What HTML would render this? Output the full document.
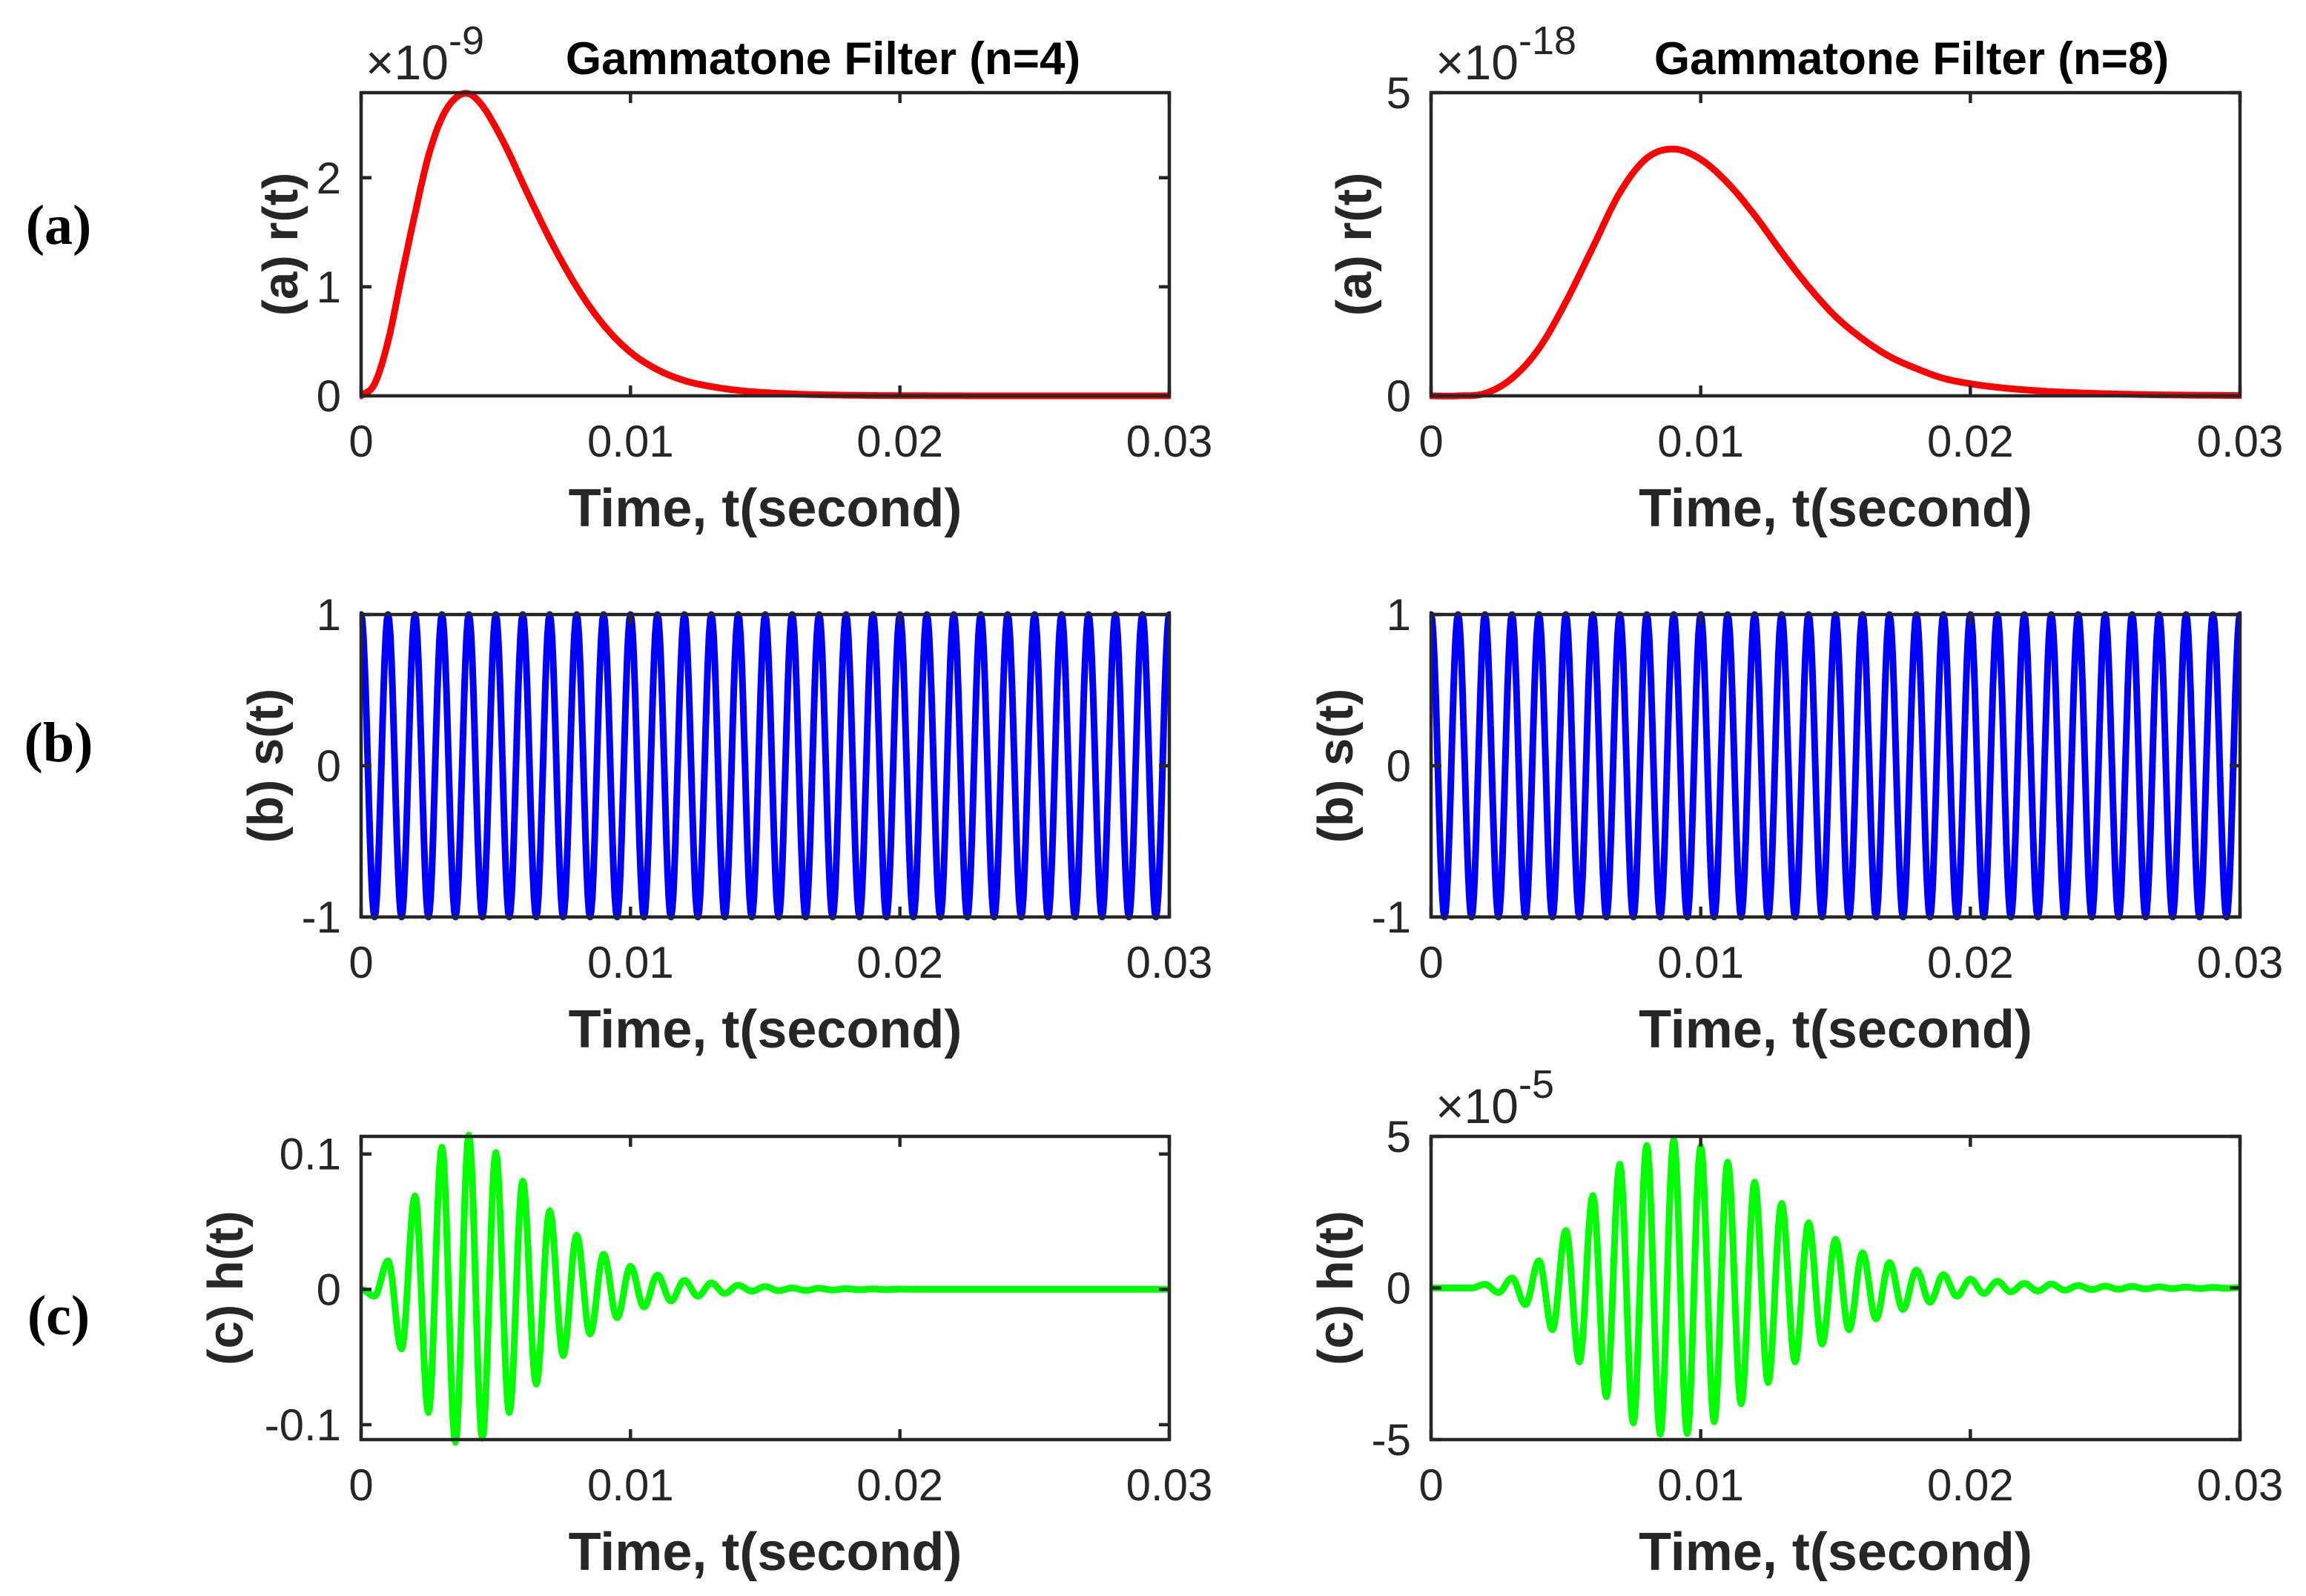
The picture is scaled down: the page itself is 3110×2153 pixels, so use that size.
<!DOCTYPE html>
<html><head><meta charset="utf-8"><style>
html,body{margin:0;padding:0;background:#fff;}
svg{display:block;}
text{font-family:"Liberation Sans",Arial,sans-serif;fill:#262626;}
</style></head><body>
<svg id="fig" width="3110" height="2153" viewBox="0 0 3110 2153" xmlns="http://www.w3.org/2000/svg">
<g id="layer"></g>
</svg>
<script>
// ---- data ----
const rTimes4 = [0,0.0005,0.001,0.0015,0.002,0.0025,0.003,0.0035,0.004,0.0045,0.005,0.0055,0.006,0.0065,0.007,0.0075,0.008,0.009,0.010,0.011,0.012,0.013,0.014,0.015,0.016,0.018,0.020,0.022,0.025,0.03];
const rVals4 = [0,0.11,0.5,1.09,1.67,2.2,2.55,2.73,2.77,2.66,2.46,2.22,1.95,1.69,1.44,1.21,1.0,0.65,0.40,0.24,0.14,0.085,0.05,0.03,0.018,0.006,0.002,0.0005,0,0];
const rTimes8 = [0,0.001,0.002,0.003,0.004,0.005,0.006,0.007,0.008,0.009,0.010,0.011,0.012,0.013,0.014,0.015,0.016,0.017,0.018,0.019,0.020,0.021,0.022,0.023,0.024,0.025,0.026,0.027,0.028,0.029,0.030];
const rVals8 = [0,0,0.04,0.29,0.78,1.55,2.45,3.35,3.92,4.07,3.9,3.51,2.98,2.37,1.8,1.31,0.94,0.65,0.45,0.29,0.2,0.14,0.1,0.07,0.05,0.035,0.025,0.017,0.012,0.008,0.005];
// extrema sampled every half period (0.0005 s)
const extremaStep = 0.0005;
const sExtrema = [1,-1,1,-1,1,-1,1,-1,1,-1,1,-1,1,-1,1,-1,1,-1,1,-1,1,-1,1,-1,1,-1,1,-1,1,-1,1,-1,1,-1,1,-1,1,-1,1,-1,1,-1,1,-1,1,-1,1,-1,1,-1,1,-1,1,-1,1,-1,1,-1,1,-1,1];
const hExtrema4 = [0,-0.005,0.021,-0.044,0.069,-0.091,0.105,-0.113,0.114,-0.110,0.101,-0.091,0.080,-0.070,0.058,-0.049,0.040,-0.033,0.026,-0.021,0.017,-0.013,0.0106,-0.0086,0.0066,-0.005,0.0047,-0.003,0.003,-0.0013,0.002,-0.001,0.001,-0.0008,0.0008,-0.0005,0.0005,-0.0003,0.0003,-0.0002,0.0002,0,0,0,0,0,0,0,0,0,0,0,0,0,0,0,0,0,0,0,0];
const hExtrema8 = [0,0,0,0,0.12,-0.15,0.33,-0.55,0.9,-1.38,1.9,-2.44,3.05,-3.59,4.08,-4.45,4.7,-4.82,4.88,-4.8,4.67,-4.41,4.15,-3.82,3.49,-3.12,2.79,-2.44,2.15,-1.85,1.61,-1.38,1.16,-1.02,0.84,-0.71,0.59,-0.47,0.44,-0.27,0.29,-0.18,0.22,-0.13,0.15,-0.1,0.13,-0.07,0.08,-0.05,0.06,-0.04,0.05,-0.03,0.04,-0.02,0.03,-0.02,0.02,-0.01,0.01];
const xTicks = [0,0.01,0.02,0.03];
const xTickLabels = ["0","0.01","0.02","0.03"];
const yTicksA4 = [0,1,2], yTickLabelsA4 = ["0","1","2"];
const yTicksA8 = [0,5], yTickLabelsA8 = ["0","5"];
const yTicksB = [-1,0,1], yTickLabelsB = ["-1","0","1"];
const yTicksC4 = [-0.1,0,0.1], yTickLabelsC4 = ["-0.1","0","0.1"];
const yTicksC8 = [-5,0,5], yTickLabelsC8 = ["-5","0","5"];

const NS = "http://www.w3.org/2000/svg";
const layer = document.getElementById('layer');
function mk(tag, attrs, parent){
  const e = document.createElementNS(NS, tag);
  for (const k in attrs) e.setAttribute(k, attrs[k]);
  (parent||layer).appendChild(e);
  return e;
}
// cubic Hermite through (times, vals) with nonuniform spacing
function hermitePath(times, vals, sx, sy){
  const n = times.length, m = [];
  for (let i=0;i<n;i++){
    if (i===0) m.push((vals[1]-vals[0])/(times[1]-times[0]));
    else if (i===n-1) m.push((vals[n-1]-vals[n-2])/(times[n-1]-times[n-2]));
    else {
      const d0=(vals[i]-vals[i-1])/(times[i]-times[i-1]);
      const d1=(vals[i+1]-vals[i])/(times[i+1]-times[i]);
      const h0=times[i]-times[i-1], h1=times[i+1]-times[i];
      m.push((d0*h1+d1*h0)/(h0+h1));
    }
  }
  const pts=[];
  for (let i=0;i<n-1;i++){
    const h=times[i+1]-times[i];
    for (let j=0;j<20;j++){
      const s=j/20, s2=s*s, s3=s2*s;
      const v=(2*s3-3*s2+1)*vals[i]+(s3-2*s2+s)*h*m[i]+(-2*s3+3*s2)*vals[i+1]+(s3-s2)*h*m[i+1];
      pts.push([sx(times[i]+s*h), sy(v)]);
    }
  }
  pts.push([sx(times[n-1]), sy(vals[n-1])]);
  return "M"+pts.map(p=>p[0].toFixed(1)+","+p[1].toFixed(1)).join(" L");
}
function extremaPath(vals, sx, sy){
  const pts=[];
  for (let k=0;k<vals.length-1;k++){
    const v0=vals[k], v1=vals[k+1];
    for (let j=0;j<12;j++){
      const f=j/12;
      pts.push([sx((k+f)*extremaStep), sy(v0+(v1-v0)*(1-Math.cos(Math.PI*f))/2)]);
    }
  }
  pts.push([sx((vals.length-1)*extremaStep), sy(vals[vals.length-1])]);
  return "M"+pts.map(p=>p[0].toFixed(1)+","+p[1].toFixed(1)).join(" L");
}

function panel(o){
  const g = mk('g',{});
  
  
  const sx = t => o.x0 + (t-0)/(0.03)*(o.x1-o.x0);
  const sy = v => o.y1 - (v-o.ymin)/(o.ymax-o.ymin)*(o.y1-o.y0);
  let d;
  if (o.kind==='smooth') d = hermitePath(o.times, o.vals, sx, sy);
  else d = extremaPath(o.vals, sx, sy);
  const clipId = 'clip-'+o.name;
  const cp = mk('clipPath',{id:clipId}, g);
  mk('rect',{x:o.x0-2,y:o.y0-8,width:o.x1-o.x0+4,height:o.y1-o.y0+16}, cp);
  const line = mk('path',{d:d, fill:'none', stroke:o.color, 'stroke-width':9, 'stroke-linejoin':'round','stroke-linecap':'round','clip-path':'url(#'+clipId+')'}, g);
  
  
  const fr = mk('rect',{x:o.x0,y:o.y0,width:o.x1-o.x0,height:o.y1-o.y0,fill:'none',stroke:'#262626','stroke-width':4.5}, g);
  
  
  xTicks.forEach((t,i)=>{
    const x=sx(t);
    mk('line',{x1:x,x2:x,y1:o.y1,y2:o.y1-14,stroke:'#262626','stroke-width':4.5}, g);
    mk('line',{x1:x,x2:x,y1:o.y0,y2:o.y0+14,stroke:'#262626','stroke-width':4.5}, g);
    const tl = mk('text',{x:x,y:o.y1+82,'text-anchor':'middle','font-size':60}, g);
    tl.textContent = xTickLabels[i];
    
    
  });
  o.yt.forEach((v,i)=>{
    const y=sy(v);
    mk('line',{x1:o.x0,x2:o.x0+14,y1:y,y2:y,stroke:'#262626','stroke-width':4.5}, g);
    mk('line',{x1:o.x1,x2:o.x1-14,y1:y,y2:y,stroke:'#262626','stroke-width':4.5}, g);
    const tl = mk('text',{x:o.x0-27,y:y+21,'text-anchor':'end','font-size':60}, g);
    tl.textContent = o.ytl[i];
    
    
  });
  const xl = mk('text',{x:(o.x0+o.x1)/2,y:o.y1+176,'text-anchor':'middle','font-size':72,'font-weight':'bold'}, g);
  xl.textContent = 'Time, t(second)';
  
  
  const yc=(o.y0+o.y1)/2;
  const yl = mk('text',{x:0,y:0,'text-anchor':'middle','font-size':67,'font-weight':'bold',transform:'translate('+(o.ylx+24)+','+yc+') rotate(-90)'}, g);
  yl.textContent = o.ylabel;
  
  
  if (o.exp){
    const ex = mk('text',{x:o.x0+6,y:o.y0-18,'font-size':66}, g);
    
    
    const a = mk('tspan',{}, ex); a.textContent='\u00d710';
    const b = mk('tspan',{dy:-34,'font-size':54}, ex); b.textContent=o.exp;
  }
}

const L={x0:487,x1:1577}, R={x0:1930,x1:3021};
const RA={y0:125,y1:534}, RB={y0:829,y1:1237}, RC={y0:1533,y1:1942};

panel({name:'r-n4', ...L, ...RA, ymin:0, ymax:2.78, kind:'smooth', times:rTimes4, vals:rVals4, color:'#ff0000', yt:yTicksA4, ytl:yTickLabelsA4, ylabel:'(a) r(t)', ylx:377, exp:'-9'});
panel({name:'r-n8', ...R, ...RA, ymin:0, ymax:5, kind:'smooth', times:rTimes8, vals:rVals8, color:'#ff0000', yt:yTicksA8, ytl:yTickLabelsA8, ylabel:'(a) r(t)', ylx:1825, exp:'-18'});
panel({name:'s-n4', ...L, ...RB, ymin:-1, ymax:1, kind:'ext', vals:sExtrema, color:'#0000ff', yt:yTicksB, ytl:yTickLabelsB, ylabel:'(b) s(t)', ylx:357});
panel({name:'s-n8', ...R, ...RB, ymin:-1, ymax:1, kind:'ext', vals:sExtrema, color:'#0000ff', yt:yTicksB, ytl:yTickLabelsB, ylabel:'(b) s(t)', ylx:1800});
panel({name:'h-n4', ...L, ...RC, ymin:-0.111, ymax:0.113, kind:'ext', vals:hExtrema4, color:'#00ff00', yt:yTicksC4, ytl:yTickLabelsC4, ylabel:'(c) h(t)', ylx:303});
panel({name:'h-n8', ...R, ...RC, ymin:-5, ymax:5, kind:'ext', vals:hExtrema8, color:'#00ff00', yt:yTicksC8, ytl:yTickLabelsC8, ylabel:'(c) h(t)', ylx:1800, exp:'-5'});

[['Gammatone Filter (n=4)',1110,'title-n4'],['Gammatone Filter (n=8)',2578,'title-n8']].forEach(a=>{
  const t = mk('text',{x:a[1],y:100,'text-anchor':'middle','font-size':62,'font-weight':'bold',style:'fill:#000'});
  t.textContent=a[0];
  
  
});
[['(a)',329,'row-label-a'],['(b)',1027,'row-label-b'],['(c)',1800,'row-label-c']].forEach(a=>{
  const t = mk('text',{x:79,y:a[1],'text-anchor':'middle','font-size':76,'font-weight':'bold',style:'fill:#000;font-family:"Liberation Serif",serif'});
  t.textContent=a[0];
  
  
});
</script>
</body></html>
